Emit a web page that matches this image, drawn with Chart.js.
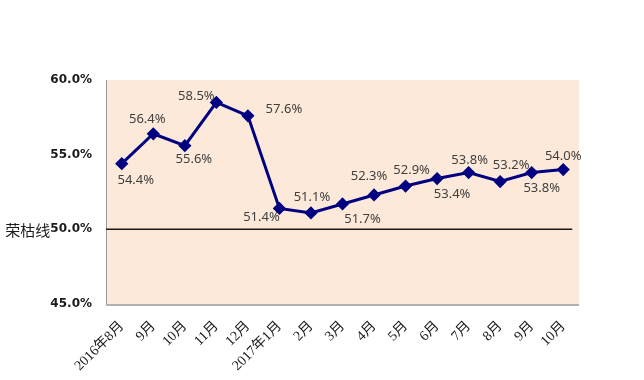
<!DOCTYPE html>
<html><head><meta charset="utf-8">
<script src="https://cdn.jsdelivr.net/npm/chart.js@4/dist/chart.umd.min.js"></script>
<style>html,body{margin:0;padding:0;background:#fff;}#wrap{width:644px;height:380px;}</style>
</head><body><div id="wrap"><canvas id="c" width="644" height="380"></canvas></div>
<script>
const categories = ['2016年8月','9月','10月','11月','12月','2017年1月','2月','3月','4月','5月','6月','7月','8月','9月','10月'];
const pmiValues = [54.4, 56.4, 55.6, 58.5, 57.6, 51.4, 51.1, 51.7, 52.3, 52.9, 53.4, 53.8, 53.2, 53.8, 54.0];
const yTicks = [45, 50, 55, 60];
const thresholdValue = 50;
const thresholdLabel = '荣枯线';
// label offsets (dx, dy) relative to each point
const labelOffsets = [[14,17],[-6,-14],[9,14],[-20,-6],[36,-7],[-18,9],[1,-16],[20,15],[-5,-19],[6,-16],[15,16],[1,-12],[11,-16],[10,16],[0,-13]];

const bgPlugin = {
  id:'bg',
  beforeDraw(chart){
    const {ctx, chartArea:a} = chart;
    ctx.save();
    ctx.fillStyle = '#FDE9D9';
    ctx.fillRect(a.left, a.top, a.right-a.left, a.bottom-a.top);
    ctx.strokeStyle = '#9a9a9a';
    ctx.lineWidth = 1;
    ctx.beginPath();
    ctx.moveTo(a.left+0.5, a.top); ctx.lineTo(a.left+0.5, a.bottom);
    ctx.stroke();
    ctx.strokeStyle = '#b0b0b0';
    ctx.lineWidth = 2;
    ctx.beginPath();
    ctx.moveTo(a.left, a.bottom+1); ctx.lineTo(a.right, a.bottom+1);
    ctx.stroke();
    const y = chart.scales.y.getPixelForValue(thresholdValue);
    const xEnd = chart.scales.x.getPixelForValue(categories.length-1) + 9;
    ctx.strokeStyle = '#1a1a1a';
    ctx.lineWidth = 1.5;
    ctx.beginPath();
    ctx.moveTo(a.left, y); ctx.lineTo(xEnd, y);
    ctx.stroke();
    ctx.restore();
  },
  afterDraw(chart){
    const {ctx} = chart;
    const meta = chart.getDatasetMeta(0);
    ctx.save();
    ctx.font = '13px "Noto Sans", sans-serif';
    ctx.fillStyle = '#404040';
    ctx.textAlign = 'center';
    ctx.textBaseline = 'middle';
    meta.data.forEach((p,i)=>{
      const [dx,dy] = labelOffsets[i];
      ctx.fillText(pmiValues[i].toFixed(1)+'%', p.x+dx, p.y+dy);
    });
    const ys = chart.scales.y;
    const y = ys.getPixelForValue(thresholdValue);
    ctx.font = 'bold 12px "DejaVu Sans", sans-serif';
    const w = ctx.measureText('50.0%').width;
    ctx.font = '15px "Noto Sans CJK SC", sans-serif';
    ctx.fillStyle = '#1a1a1a';
    ctx.textAlign = 'right';
    ctx.fillText(thresholdLabel, ys.right - 14 - w, y+1);
    ctx.restore();
  }
};

new Chart(document.getElementById('c'), {
  type:'line',
  data:{labels:categories, datasets:[{
    data:pmiValues,
    borderColor:'#000080', backgroundColor:'#000080',
    borderWidth:3, tension:0,
    pointStyle:'rectRot', pointRadius:4.5, pointHoverRadius:4.5,
    pointBackgroundColor:'#000080', pointBorderColor:'#000080'
  }]},
  options:{
    responsive:false, animation:false,
    layout:{padding:{top:80,right:65,left:0,bottom:0}},
    plugins:{legend:{display:false}, tooltip:{enabled:false}},
    scales:{
      x:{
        offset:true,
        grid:{display:false, drawTicks:false},
        border:{display:false},
        ticks:{maxRotation:45, minRotation:45, autoSkip:false, padding:14,
          font:{family:'"Liberation Serif", "Noto Sans CJK SC", serif', size:14}, color:'#1a1a1a'},
        afterFit(s){ s.height = 76; }
      },
      y:{
        min:45, max:60,
        afterBuildTicks(s){ s.ticks = yTicks.map(v=>({value:v})); },
        grid:{display:false, drawTicks:false},
        border:{display:false},
        ticks:{padding:14, color:'#1a1a1a', font:{family:'"DejaVu Sans", sans-serif', size:12, weight:'bold'},
          callback:v=>Number(v).toFixed(1)+'%'},
        afterFit(s){ s.width = 106; }
      }
    }
  },
  plugins:[bgPlugin]
});
</script></body></html>
